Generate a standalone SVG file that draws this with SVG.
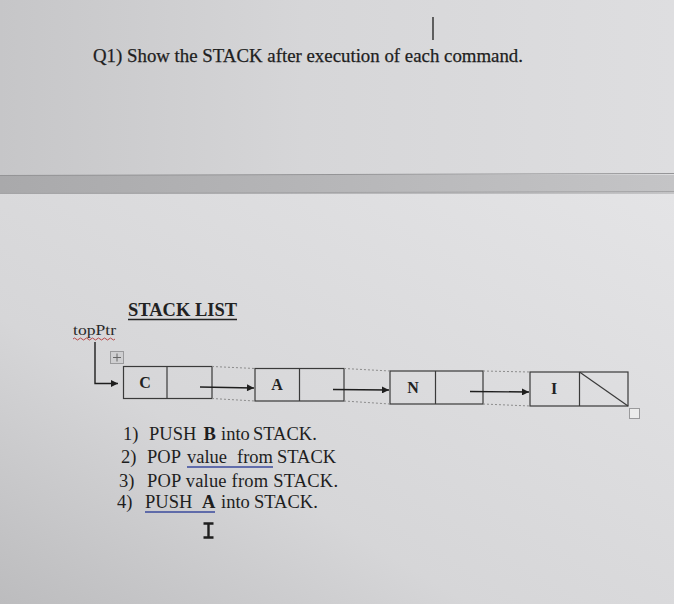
<svg xmlns="http://www.w3.org/2000/svg" width="674" height="604" viewBox="0 0 674 604">
<defs>
  <linearGradient id="gTop" x1="0" y1="0" x2="1" y2="0">
    <stop offset="0" stop-color="#c6c6c8"/>
    <stop offset="0.45" stop-color="#d6d6d8"/>
    <stop offset="1" stop-color="#dedee0"/>
  </linearGradient>
  <linearGradient id="gBot" x1="0" y1="1" x2="1" y2="0">
    <stop offset="0" stop-color="#bcbcbe"/>
    <stop offset="0.35" stop-color="#d6d6d8"/>
    <stop offset="1" stop-color="#e4e4e6"/>
  </linearGradient>
  <linearGradient id="gBand" x1="0" y1="0" x2="1" y2="0">
    <stop offset="0" stop-color="#a9a9ab"/>
    <stop offset="1" stop-color="#c4c4c6"/>
  </linearGradient>
  <marker id="arr" viewBox="0 0 10 10" refX="10" refY="5" markerWidth="9" markerHeight="7" markerUnits="userSpaceOnUse" orient="auto">
    <path d="M0,0 L10,5 L0,10 z" fill="#1e1e1e"/>
  </marker>
</defs>
<style>
  .cell{fill:none;stroke:#3a3a3a;stroke-width:1.2}
  .lbl{font-family:"Liberation Serif",serif;font-weight:bold;font-size:16px;fill:#222;text-anchor:middle}
  .dot{stroke:#8c8c8c;stroke-dasharray:2 2;stroke-width:1;fill:none}
  .conn{stroke:#1e1e1e;stroke-width:1.4;fill:none}
  .txt{font-family:"Liberation Serif",serif;font-size:18.5px;fill:#1e1e1e}
  .ul{stroke:#3a4a9c;stroke-width:1.3}
</style>

<!-- background -->
<rect x="0" y="0" width="674" height="176" fill="url(#gTop)"/>
<rect x="0" y="175" width="674" height="19" fill="url(#gBand)"/>
<line x1="0" y1="175.5" x2="674" y2="173.5" stroke="#949496" stroke-width="1"/>
<line x1="0" y1="193.5" x2="674" y2="191.5" stroke="#a4a4a6" stroke-width="1"/>
<rect x="0" y="194" width="674" height="410" fill="url(#gBot)"/>

<!-- heading -->
<g id="question">
  <text class="txt" x="93" y="62" font-size="18.5" textLength="430" lengthAdjust="spacingAndGlyphs" stroke="#1e1e1e" stroke-width="0.25">Q1) Show the STACK after execution of each command.</text>
  <line x1="433" y1="17" x2="433" y2="40" stroke="#2a2a2a" stroke-width="1.4"/>
</g>

<g id="title">
  <text x="128" y="316" font-family="Liberation Serif, serif" font-weight="bold" font-size="18" fill="#222" textLength="109" lengthAdjust="spacingAndGlyphs">STACK LIST</text>
  <line x1="128" y1="319.5" x2="237" y2="319.5" stroke="#222" stroke-width="1.4"/>
</g>

<g id="topPtr">
  <text x="73" y="335" font-family="Liberation Serif, serif" font-size="15.5" fill="#2a2a2a" textLength="43" lengthAdjust="spacingAndGlyphs">topPtr</text>
  <path d="M73,339 q1.5,-2 3,0 t3,0 t3,0 t3,0 t3,0 t3,0 t3,0 t3,0 t3,0 t3,0 t3,0 t3,0 t3,0 t3,0" fill="none" stroke="#b84848" stroke-width="1"/>
  <rect x="110.5" y="351.5" width="13" height="12" fill="#cfcfd1" stroke="#9a9a9c" stroke-width="1"/>
  <path d="M117,353.5 v8 M113,357.5 h8" stroke="#666" stroke-width="1"/>
</g>

<g id="node-C">
  <rect class="cell" x="123.5" y="366.5" width="88.5" height="32"/>
  <line class="cell" x1="167" y1="366.5" x2="167" y2="398.5"/>
  <text class="lbl" x="145" y="388">C</text>
</g>
<g id="node-A">
  <rect class="cell" x="255" y="368.5" width="89" height="32.5"/>
  <line class="cell" x1="299.5" y1="368.5" x2="299.5" y2="401"/>
  <text class="lbl" x="277" y="390">A</text>
</g>
<g id="node-N">
  <rect class="cell" x="390" y="371" width="93" height="33"/>
  <line class="cell" x1="435.5" y1="371" x2="435.5" y2="404"/>
  <text class="lbl" x="413" y="393">N</text>
</g>
<g id="node-I">
  <rect class="cell" x="530" y="372" width="98" height="34"/>
  <line class="cell" x1="579.5" y1="372" x2="579.5" y2="406"/>
  <text class="lbl" x="554" y="394">I</text>
  <line class="cell" x1="579.5" y1="372" x2="628" y2="406"/>
  <rect x="629.5" y="408.5" width="10" height="10" fill="#ececec" stroke="#9a9a9c" stroke-width="1"/>
</g>

<g id="connectors">
  <path class="dot" d="M212,366.5 L255,368.5 M212,398.5 L255,401"/>
  <path class="dot" d="M344,368.5 L390,371 M344,401 L390,404"/>
  <path class="dot" d="M483,371 L530,372 M483,404 L530,406"/>
  <polyline class="conn" points="95,342 95,383.5 118,383.5" marker-end="url(#arr)"/>
  <line class="conn" x1="200" y1="387" x2="254" y2="388" marker-end="url(#arr)"/>
  <line class="conn" x1="333" y1="389.5" x2="389" y2="390" marker-end="url(#arr)"/>
  <line class="conn" x1="470" y1="391.5" x2="529" y2="392" marker-end="url(#arr)"/>
</g>

<g id="commands">
  <text class="txt" x="123" y="440">1)</text>
  <text class="txt" y="440"><tspan x="149">PUSH</tspan><tspan x="203.5" font-weight="bold">B</tspan><tspan x="221">into</tspan><tspan x="253">STACK.</tspan></text>

  <text class="txt" x="121" y="463">2)</text>
  <text class="txt" y="463"><tspan x="147">POP</tspan><tspan x="187">value</tspan><tspan x="237">from</tspan><tspan x="277">STACK</tspan></text>
  <line class="ul" x1="187" y1="467" x2="273" y2="467"/>

  <text class="txt" x="119" y="487">3)</text>
  <text class="txt" x="147" y="487" textLength="191" lengthAdjust="spacing">POP value from STACK.</text>

  <text class="txt" x="117" y="508">4)</text>
  <text class="txt" y="508"><tspan x="145">PUSH</tspan><tspan x="202" font-weight="bold">A</tspan><tspan x="221">into</tspan><tspan x="254">STACK.</tspan></text>
  <line class="ul" x1="145" y1="512" x2="215" y2="512"/>

  <path d="M203.5,523.5 h10 M208.5,523.5 v14 M203.5,537.5 h10" stroke="#1e1e1e" stroke-width="2.4" fill="none"/>
</g>
</svg>
